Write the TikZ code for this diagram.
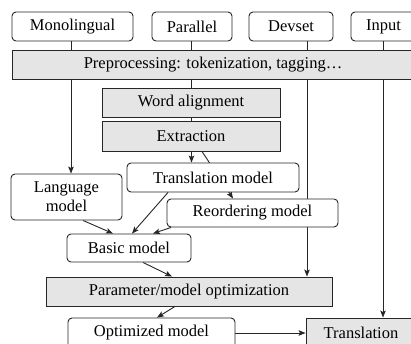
\documentclass[tikz,border=0pt]{standalone}
\usepackage{fontspec}
\setmainfont{Liberation Serif}
\usetikzlibrary{arrows.meta,backgrounds}
\begin{document}
\begin{tikzpicture}[x=1pt,y=-1pt,
  font=\fontsize{16.5}{19}\selectfont,
  box/.style={draw=black!85, line width=0.9pt, inner sep=0pt, align=center, anchor=center},
  rbox/.style={box, rounded corners=4pt, fill=white},
  gbox/.style={box, fill=black!10},
  arr/.style={draw=black!85, line width=0.9pt, -{Stealth[length=7pt,width=5.5pt,inset=1.5pt]}},
  wh/.style={minimum width=#1},
  ht/.style={minimum height=#1}]
\useasboundingbox (0,0) rectangle (411,344);

% data sources
\node[rbox, wh=121pt, ht=29pt] (mono)  at (72.5,26.5)  {Monolingual};
\node[rbox, wh=80pt,  ht=29pt] (para)  at (192,26.5)   {Parallel};
\node[rbox, wh=84pt,  ht=29pt] (dev)   at (291,26.5)   {Devset};
\node[rbox, wh=65pt,  ht=29pt] (input) at (383.5,26.5) {Input};

% processing steps
\node[gbox, wh=402pt, ht=29pt] (pre) at (213,64.5) {Preprocessing: tokenization, tagging…};
\node[gbox, wh=178pt, ht=29pt] (wa)  at (191,102.5) {Word alignment};
\node[gbox, wh=178pt, ht=30pt] (ext) at (191,136)   {Extraction};

% models
\node[rbox, wh=111pt, ht=46pt] (lm) at (66.5,197)  {Language\\model};
\node[rbox, wh=172pt, ht=29pt] (tm) at (213,177.5) {Translation model};
\node[rbox, wh=171pt, ht=28pt] (rm) at (252.5,213) {Reordering model};
\node[rbox, wh=124pt, ht=28pt] (bm) at (129,248)   {Basic model};

% tuning and decoding
\node[gbox, wh=286pt, ht=29pt] (po) at (189,291.5) {Parameter/model optimization};
\node[rbox, wh=167pt, ht=30pt] (om) at (151.5,333) {Optimized model};
\node[gbox, wh=110pt, ht=30pt] (tr) at (361,333)   {Translation};

% x positions of the connectors
\coordinate (xmono) at (71,0);
\coordinate (xpar)  at (191.5,0);
\coordinate (xext)  at (202,0);
\coordinate (xrmt)  at (233,0);
\coordinate (xdev)  at (307,0);
\coordinate (xin)   at (383,0);
\coordinate (xlmb)  at (83,0);
\coordinate (xbm1)  at (113,0);
\coordinate (xtmb)  at (168,0);
\coordinate (xbm2)  at (132,0);
\coordinate (xrmb)  at (171,0);
\coordinate (xbm3)  at (153,0);
\coordinate (xbmb)  at (143,0);
\coordinate (xpot)  at (172,0);
\coordinate (xpob)  at (175,0);
\coordinate (xomt)  at (157,0);

\begin{scope}[on background layer]
  \draw[arr] (mono.south -| xmono) -- (lm.north -| xmono);
  \draw[arr] (para.south -| xpar)  -- (tm.north -| xpar);
  \draw[arr] (ext.south -| xext)   -- (rm.north -| xrmt);
  \draw[arr] (dev.south -| xdev)   -- (po.north -| xdev);
  \draw[arr] (input.south -| xin)  -- (tr.north -| xin);
  \draw[arr] (lm.south -| xlmb)    -- (bm.north -| xbm1);
  \draw[arr] (tm.south -| xtmb)    -- (bm.north -| xbm2);
  \draw[arr] (rm.south -| xrmb)    -- (bm.north -| xbm3);
  \draw[arr] (bm.south -| xbmb)    -- (po.north -| xpot);
  \draw[arr] (po.south -| xpob)    -- (om.north -| xomt);
  \draw[arr] (om.east)             -- (tr.west);
\end{scope}
\end{tikzpicture}
\end{document}
